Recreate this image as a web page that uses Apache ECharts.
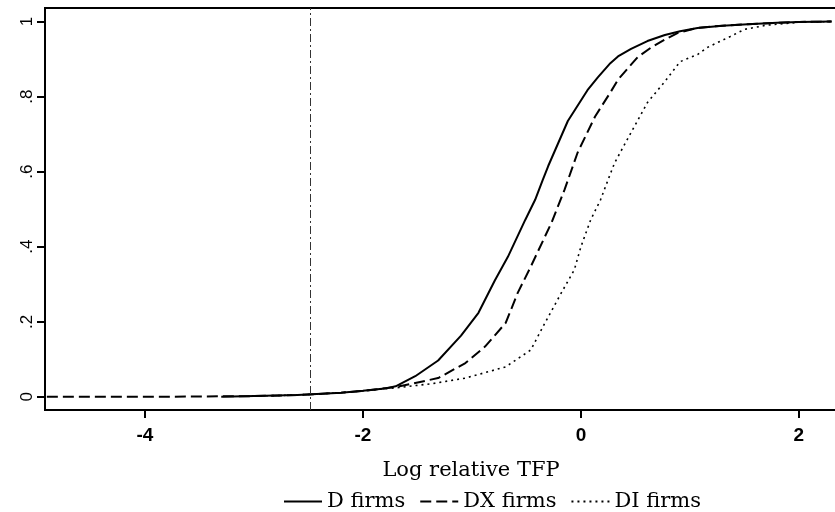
<!DOCTYPE html>
<html><head><meta charset="utf-8">
<script src="https://cdn.jsdelivr.net/npm/echarts@6/dist/echarts.min.js"></script>
<style>html,body{margin:0;padding:0;background:#fff;overflow:hidden;width:835px;height:512px}#c{width:897px;height:512px}</style>
</head><body><div id="c"></div>
<script>
// D firms (solid)
const xD = [-3.3,-3.0,-2.6,-2.2,-2.0,-1.8,-1.7,-1.52,-1.31,-1.10,-0.94,-0.79,-0.67,-0.51,-0.42,-0.35,-0.30,-0.12,0.06,0.155,0.27,0.34,0.46,0.61,0.77,0.91,1.07,1.3,1.53,1.8,2.0,2.3];
const yD = [0.0,0.002,0.005,0.011,0.016,0.022,0.028,0.055,0.097,0.163,0.224,0.31,0.373,0.472,0.525,0.578,0.615,0.735,0.817,0.851,0.889,0.907,0.927,0.948,0.964,0.974,0.983,0.989,0.993,0.997,0.999,1.0];
// DX firms (dashed)
const xDX = [-4.9,-4.0,-3.5,-3.0,-2.6,-2.2,-2.0,-1.7,-1.31,-1.06,-0.88,-0.69,-0.58,-0.46,-0.27,-0.15,-0.03,0.13,0.27,0.34,0.46,0.52,0.64,0.77,0.89,1.07,1.3,1.53,2.0,2.3];
const yDX = [0.0,0.0,0.001,0.002,0.005,0.011,0.016,0.026,0.05,0.09,0.134,0.197,0.277,0.347,0.464,0.552,0.651,0.747,0.811,0.845,0.885,0.905,0.93,0.952,0.97,0.983,0.989,0.993,0.999,1.0];
// DI firms (dotted)
const xDI = [-3.0,-2.6,-2.2,-2.0,-1.67,-1.37,-1.06,-0.69,-0.46,-0.33,-0.18,-0.06,0.0,0.09,0.18,0.25,0.31,0.46,0.61,0.77,0.91,1.07,1.16,1.37,1.5,1.7,2.0,2.3];
const yDI = [0.002,0.005,0.011,0.016,0.025,0.035,0.05,0.08,0.125,0.197,0.277,0.339,0.40,0.472,0.525,0.579,0.624,0.704,0.784,0.84,0.893,0.912,0.931,0.96,0.979,0.99,0.998,1.0];

const seriesNames = ['D firms','DX firms','DI firms'];
const xTickValues = [-4,-2,0,2];
const xTickLabels = ['-4','-2','0','2'];
const yTickValues = [0,0.2,0.4,0.6,0.8,1];
const yTickLabels = ['0','.2','.4','.6','.8','1'];
const refLineX = -2.48;
const xTitle = 'Log relative TFP';

const pairs = (xs, ys) => xs.map((x,i)=>[x, ys[i]]);
const chart = echarts.init(document.getElementById('c'), null, {renderer:'canvas'});
const serif = '"DejaVu Serif", "Liberation Serif", serif';
chart.setOption({
  animation:false,
  backgroundColor:'#fff',
  grid:{left:45, right:0, top:8, bottom:102, show:true, borderColor:'#000', borderWidth:2, backgroundColor:'transparent'},
  xAxis:{type:'value', min:-4.917, max:2.9,
    name:xTitle, nameLocation:'middle', nameGap:50,
    nameTextStyle:{fontFamily:serif, fontSize:21, color:'#000'},
    axisLine:{show:true, onZero:false, lineStyle:{color:'#000', width:2}},
    axisTick:{show:true, length:8, lineStyle:{color:'#000', width:2}, customValues:xTickValues},
    axisLabel:{color:'#000', fontFamily:'"Liberation Sans", Arial, sans-serif', fontWeight:'bold', fontSize:19, margin:16,
      customValues:xTickValues, formatter:v=>xTickLabels[xTickValues.indexOf(v)] ?? ''},
    splitLine:{show:false}},
  yAxis:{type:'value', min:-0.035, max:1.036,
    axisLine:{show:true, onZero:false, lineStyle:{color:'#000', width:2}},
    axisTick:{show:true, length:8, lineStyle:{color:'#000', width:2}, customValues:yTickValues},
    axisLabel:{color:'#000', fontFamily:'"Liberation Sans", Arial, sans-serif', fontSize:17, rotate:90, margin:9,
      customValues:yTickValues, formatter:v=>{const i=yTickValues.findIndex(t=>Math.abs(t-v)<1e-6);return i>=0?yTickLabels[i]:'';}},
    splitLine:{show:false}},
  legend:{left:278, top:486, itemWidth:38, itemHeight:10, itemGap:14,
    itemStyle:{opacity:0},
    textStyle:{fontFamily:serif, fontSize:21, color:'#000'},
    data:seriesNames},
  series:[
    {name:seriesNames[0], type:'line', data:pairs(xD,yD), symbol:'none', smooth:false,
     lineStyle:{color:'#000', width:2, type:'solid'}, itemStyle:{color:'#000'},
     markLine:{silent:true, symbol:'none', label:{show:false},
       lineStyle:{color:'#333', width:1, type:[8,3,2,3]}, data:[{xAxis:refLineX}]}},
    {name:seriesNames[1], type:'line', data:pairs(xDX,yDX), symbol:'none',
     lineStyle:{color:'#000', width:2, type:[11,5]}, itemStyle:{color:'#000'}},
    {name:seriesNames[2], type:'line', data:pairs(xDI,yDI), symbol:'none',
     lineStyle:{color:'#000', width:1.6, type:[2,4]}, itemStyle:{color:'#000'}}
  ]
});
</script></body></html>
